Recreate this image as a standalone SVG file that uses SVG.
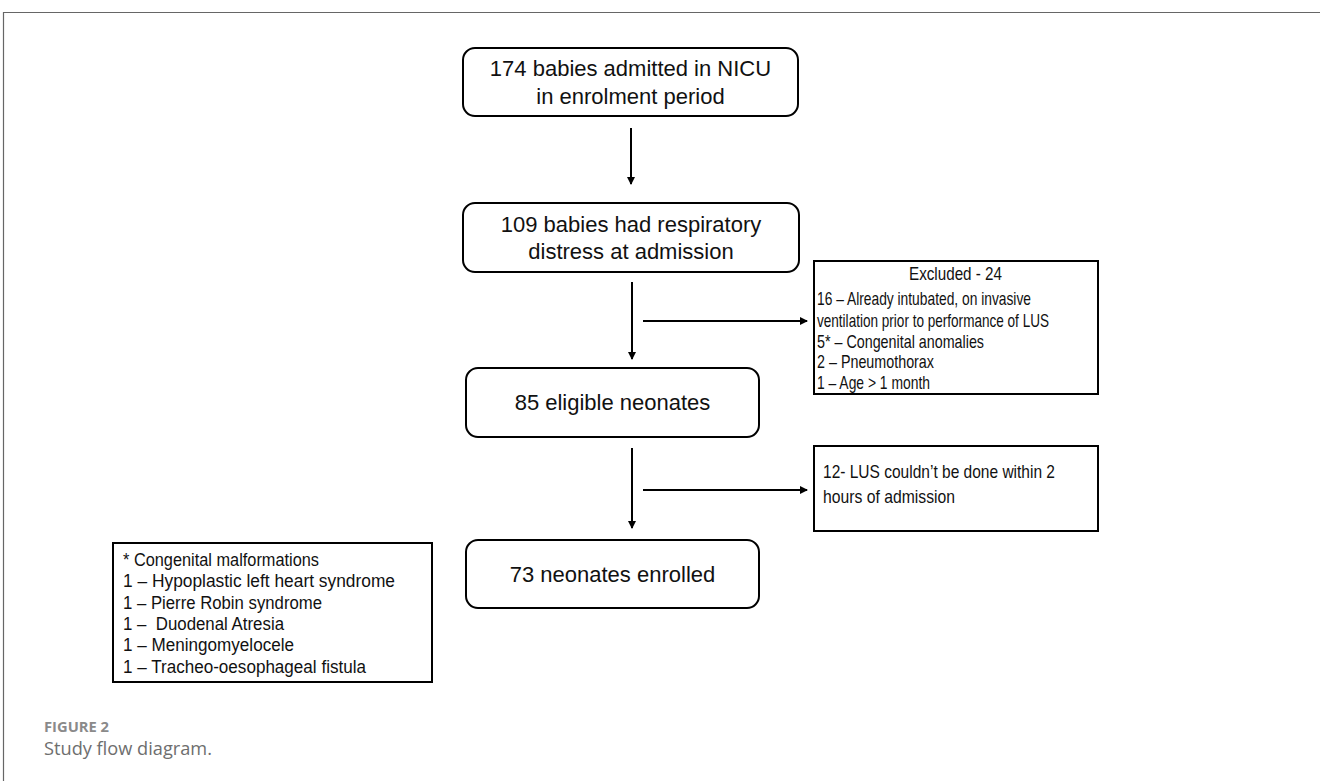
<svg xmlns="http://www.w3.org/2000/svg" width="1320" height="781" viewBox="0 0 1320 781">
<style>
.rb{fill:#fff;stroke:#000;stroke-width:2}
.sb{fill:#fff;stroke:#000;stroke-width:2}
.t{font-family:"Liberation Sans",Arial,sans-serif;fill:#111}
.big{font-size:22px}
.mid{font-size:17.5px}
.cn{font-family:"Liberation Sans Narrow","Liberation Sans",Arial,sans-serif;font-size:18.5px;fill:#111}
.edge{stroke:#000;stroke-width:2;fill:none;marker-end:url(#ah)}
.cap{font-family:"Open Sans","Noto Sans",sans-serif}
</style>
<defs>
<marker id="ah" markerWidth="8" markerHeight="8" refX="7" refY="4" orient="auto" markerUnits="userSpaceOnUse">
<path d="M0,0 L8,4 L0,8 z" fill="#000"/>
</marker>
</defs>
<rect width="1320" height="781" fill="#fff"/>
<g id="frame" stroke="#666" stroke-width="1.2" fill="none">
<path d="M3.5,781 V12.5 H1320"/>
</g>
<g id="connectors">
<line class="edge" x1="631" y1="128" x2="631" y2="184"/>
<line class="edge" x1="632" y1="282" x2="632" y2="359"/>
<line class="edge" x1="643" y1="321" x2="807" y2="321"/>
<line class="edge" x1="632" y1="448" x2="632" y2="528"/>
<line class="edge" x1="643" y1="490" x2="807" y2="490"/>
</g>
<g id="n1">
<rect class="rb" x="463" y="48" width="335" height="68" rx="12"/>
<text class="t big" x="630.5" y="76" text-anchor="middle">174 babies admitted in NICU</text>
<text class="t big" x="630.5" y="104" text-anchor="middle">in enrolment period</text>
</g>
<g id="n2">
<rect class="rb" x="463" y="203" width="336" height="69" rx="12"/>
<text class="t big" x="631" y="232" text-anchor="middle">109 babies had respiratory</text>
<text class="t big" x="631" y="259" text-anchor="middle">distress at admission</text>
</g>
<g id="n3">
<rect class="rb" x="466" y="368" width="293" height="69" rx="12"/>
<text class="t big" x="612.5" y="410" text-anchor="middle">85 eligible neonates</text>
</g>
<g id="n4">
<rect class="rb" x="466" y="540" width="293" height="68" rx="12"/>
<text class="t big" x="612.5" y="582" text-anchor="middle">73 neonates enrolled</text>
</g>
<g id="excluded">
<rect class="sb" x="814" y="261" width="284" height="133"/>
<text class="cn" x="955.5" y="280" text-anchor="middle" textLength="93" lengthAdjust="spacingAndGlyphs">Excluded - 24</text>
<text class="cn" x="817" y="305" textLength="214" lengthAdjust="spacingAndGlyphs">16 – Already intubated, on invasive</text>
<text class="cn" x="817" y="327" textLength="232" lengthAdjust="spacingAndGlyphs">ventilation prior to performance of LUS</text>
<text class="cn" x="817" y="348" textLength="167" lengthAdjust="spacingAndGlyphs">5* – Congenital anomalies</text>
<text class="cn" x="817" y="368" textLength="117" lengthAdjust="spacingAndGlyphs">2 – Pneumothorax</text>
<text class="cn" x="817" y="389" textLength="113" lengthAdjust="spacingAndGlyphs">1 – Age &gt; 1 month</text>
</g>
<g id="lus">
<rect class="sb" x="814" y="446" width="284" height="85"/>
<text class="cn" x="823" y="478" textLength="232" lengthAdjust="spacingAndGlyphs">12- LUS couldn’t be done within 2</text>
<text class="cn" x="823" y="503" textLength="132" lengthAdjust="spacingAndGlyphs">hours of admission</text>
</g>
<g id="malformations">
<rect class="sb" x="113" y="543" width="319" height="139"/>
<text class="t mid" x="123" y="566" textLength="196" lengthAdjust="spacingAndGlyphs">* Congenital malformations</text>
<text class="t mid" x="123" y="587" textLength="272" lengthAdjust="spacingAndGlyphs">1 – Hypoplastic left heart syndrome</text>
<text class="t mid" x="123" y="609" textLength="199" lengthAdjust="spacingAndGlyphs">1 – Pierre Robin syndrome</text>
<text class="t mid" x="123" y="630" textLength="161" lengthAdjust="spacingAndGlyphs" xml:space="preserve">1 –  Duodenal Atresia</text>
<text class="t mid" x="123" y="651" textLength="171" lengthAdjust="spacingAndGlyphs">1 – Meningomyelocele</text>
<text class="t mid" x="123" y="673" textLength="243" lengthAdjust="spacingAndGlyphs">1 – Tracheo-oesophageal fistula</text>
</g>
<g id="caption">
<text class="cap" x="44" y="732" font-size="14" font-weight="bold" fill="#8a8a8a" textLength="65" lengthAdjust="spacingAndGlyphs">FIGURE 2</text>
<text class="cap" x="44" y="755" font-size="18" fill="#6e6e6e" textLength="168" lengthAdjust="spacingAndGlyphs">Study flow diagram.</text>
</g>
</svg>
